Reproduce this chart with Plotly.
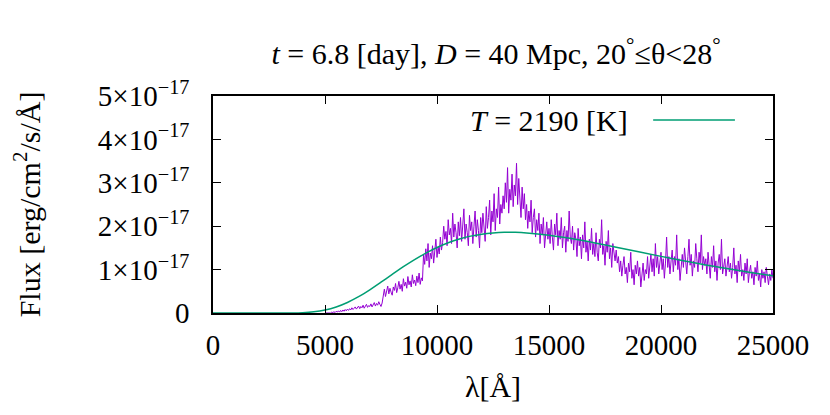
import numpy as np
import plotly.graph_objects as go

# spectrum, flux in units of 1e-17 erg/cm^2/s/A, sampled every 50 A from 5000 A
wavelength = np.arange(5000, 25001, 50)
flux_e17 = [
    0, 0, 0, 0, 0.01, 0, 0.02, 0.01, 0.03, 0.01, 0.04, 0.02, 0.05, 0.02, 0.06, 0.03, 0.07, 0.04, 0.08, 0.05,
    0.09, 0.06, 0.1, 0.07, 0.12, 0.08, 0.11, 0.14, 0.09, 0.13, 0.16, 0.1, 0.15, 0.12, 0.18, 0.11, 0.16, 0.2, 0.13, 0.17,
    0.15, 0.21, 0.14, 0.19, 0.24, 0.16, 0.22, 0.18, 0.26, 0.2, 0.15, 0.23, 0.42, 0.55, 0.38, 0.5, 0.62, 0.44, 0.57, 0.48,
    0.41, 0.6, 0.52, 0.68, 0.47, 0.58, 0.73, 0.55, 0.66, 0.5, 0.79, 0.62, 0.71, 0.57, 0.84, 0.65, 0.74, 0.6, 0.88, 0.68,
    0.76, 0.63, 0.85, 0.7, 0.92, 0.66, 0.81, 0.74, 1.35, 1.12, 1.48, 1.2, 1.6, 1.05, 1.38, 1.25, 1.55, 1.15, 1.42, 1.7,
    1.28, 1.52, 1.36, 1.75, 1.45, 1.62, 2.0, 1.7, 1.88, 1.55, 2.15, 1.8, 1.95, 1.6, 2.3, 1.75, 2.05, 1.85, 1.5, 2.1,
    1.78, 2.2, 1.65, 1.95, 2.4, 1.7, 2.05, 1.85, 1.55, 2.25, 1.9, 2.1, 1.6, 2.0, 2.35, 1.75, 2.15, 1.9, 1.5, 2.2,
    1.85, 2.3, 2.05, 1.65, 2.45, 1.95, 2.2, 2.6, 1.8, 2.35, 2.1, 2.75, 1.9, 2.4, 2.2, 2.9, 2.05, 2.5, 2.3, 2.7,
    2.4, 3.0, 2.55, 3.35, 2.3, 2.85, 2.6, 3.2, 2.45, 2.95, 2.7, 3.45, 2.5, 3.1, 2.65, 2.2, 2.9, 2.4, 2.75, 2.15,
    2.5, 1.95, 2.35, 2.1, 2.6, 1.85, 2.2, 2.4, 1.75, 2.15, 1.9, 2.3, 1.6, 2.05, 1.8, 2.2, 1.5, 1.95, 2.1, 1.7,
    1.95, 1.6, 2.15, 1.75, 1.45, 2.05, 1.8, 2.3, 1.55, 1.9, 1.7, 2.2, 1.5, 1.85, 2.0, 1.4, 1.9, 1.65, 2.35, 1.75,
    1.6, 2.0, 1.45, 1.85, 1.7, 1.3, 1.95, 1.55, 1.75, 1.25, 1.8, 1.5, 2.1, 1.4, 1.65, 1.2, 1.7, 1.45, 1.95, 1.35,
    1.6, 1.3, 1.85, 1.4, 1.2, 1.7, 1.5, 2.15, 1.35, 1.55, 1.1, 1.65, 1.4, 1.9, 1.25, 1.5, 1.05, 1.6, 1.35, 1.2,
    1.45, 1.15, 1.3, 0.95, 1.2, 0.85, 1.1, 1.3, 0.9, 1.05, 0.7, 1.15, 0.95, 1.4, 0.8, 1.0, 0.65, 1.1, 0.9, 1.2,
    0.85, 1.05, 0.6, 0.95, 1.15, 0.75, 1.0, 0.9, 1.3, 0.8, 1.1, 1.35, 0.95, 1.25, 0.85, 1.6, 1.05, 1.3, 0.9, 1.2,
    1.4, 1.0, 1.25, 0.8, 1.15, 1.75, 1.05, 1.3, 0.9, 1.2, 1.45, 0.95, 1.3, 1.1, 1.8, 1.0, 1.25, 0.75, 1.15, 1.35,
    1.05, 1.5, 1.2, 0.9, 1.3, 1.7, 1.1, 1.35, 0.85, 1.2, 1.05, 1.6, 1.25, 0.95, 1.4, 1.15, 1.8, 1.0, 1.3, 1.1,
    1.25, 0.9, 1.4, 1.1, 0.8, 1.3, 1.05, 1.55, 0.95, 1.2, 0.75, 1.15, 1.35, 1.0, 1.7, 0.9, 1.1, 1.25, 0.85, 1.05,
    1.3, 0.95, 1.15, 0.8, 1.05, 1.5, 0.9, 1.1, 0.7, 1.2, 0.95, 1.35, 0.85, 1.0, 0.75, 1.15, 0.9, 1.25, 0.7, 0.95,
    1.1, 0.8, 0.95, 0.65, 1.05, 0.85, 1.2, 0.75, 0.9, 0.6, 1.0, 0.8, 0.95, 0.7, 1.05, 0.85, 0.65, 0.9, 0.75, 1.0, 0.8,
]

# blackbody fit T = 2190 K
bb_wavelength = [0, 1000, 2000, 2500, 3000, 3500, 4000, 4500, 5000, 5500, 6000, 6500, 7000, 7500,
                 8000, 8500, 9000, 9500, 10000, 10500, 11000, 11500, 12000, 12500, 13000, 13500,
                 14000, 15000, 16000, 17000, 18000, 19000, 20000, 21000, 22000, 23000, 24000, 25000]
bb_flux_e17 = [0, 0, 0, 0, 0.0001, 0.0014, 0.0077, 0.027, 0.068, 0.139, 0.243, 0.376, 0.535, 0.711,
               0.889, 1.066, 1.23, 1.378, 1.508, 1.617, 1.704, 1.771, 1.817, 1.845, 1.859, 1.858,
               1.846, 1.794, 1.716, 1.62, 1.517, 1.411, 1.305, 1.204, 1.108, 1.018, 0.934, 0.857]

x_ticks = [0, 5000, 10000, 15000, 20000, 25000]
y_ticks = [0, 1, 2, 3, 4, 5]
y_ticktext = ["0"] + ["%d×10<sup>−17</sup>" % v for v in y_ticks[1:]]

FONT = "Liberation Serif"
FS = 29

fig = go.Figure()
fig.add_trace(go.Scatter(x=wavelength, y=flux_e17, mode="lines",
                         line=dict(color="#9400d3", width=1), showlegend=False))
fig.add_trace(go.Scatter(x=bb_wavelength, y=bb_flux_e17, mode="lines",
                         line=dict(color="#009e73", width=1.5, shape="spline"),
                         showlegend=False))

axis_style = dict(showline=True, linecolor="black", linewidth=1.5, mirror="ticks",
                  ticks="inside", ticklen=8, tickcolor="black", tickwidth=1,
                  showgrid=False, zeroline=False,
                  tickfont=dict(family=FONT, size=FS, color="black"))

fig.update_xaxes(range=[0, 25000], tickvals=x_ticks, ticktext=[str(v) for v in x_ticks],
                 title=dict(text="λ[Å]", font=dict(family=FONT, size=30, color="black"), standoff=16),
                 ticklabelstandoff=5, **axis_style)
fig.update_yaxes(range=[0, 5], tickvals=y_ticks, ticktext=y_ticktext,
                 title=dict(text="Flux [erg/cm<sup>2</sup>/s/Å]",
                            font=dict(family=FONT, size=30, color="black"), standoff=50),
                 ticklabelstandoff=16, **axis_style)

# legend drawn gnuplot style: text on the left, line sample on the right
fig.add_annotation(x=0.745, y=0.886, xref="paper", yref="paper", xanchor="right", yanchor="middle",
                   text="<i>T</i> = 2190 [K]", showarrow=False,
                   font=dict(family=FONT, size=30, color="black"))
fig.add_shape(type="line", xref="paper", yref="paper", x0=0.786, x1=0.932, y0=0.889, y1=0.889,
              line=dict(color="#009e73", width=1.5))

# page body adds an 8px offset, so margins are shifted to land the frame at 213..773 / 96..313
fig.update_layout(
    width=830, height=415,
    margin=dict(l=205, r=65, t=88, b=110),
    plot_bgcolor="white", paper_bgcolor="white",
    title=dict(text="<i>t</i> = 6.8 [day], <i>D</i> = 40 Mpc, 20<sup>°</sup>≤θ&lt;28<sup>°</sup>",
               x=0.588, xanchor="center", y=0.89, yanchor="middle",
               font=dict(family=FONT, size=30, color="black")),
)

fig.write_html("out.html")
